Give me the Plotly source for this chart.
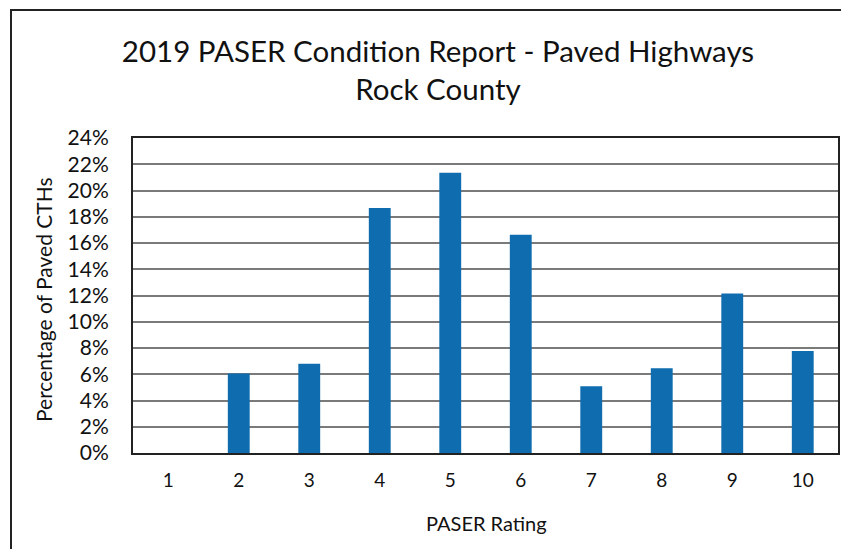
import plotly.graph_objects as go

ratings = ["1", "2", "3", "4", "5", "6", "7", "8", "9", "10"]
percent_paved = [0.0, 6.05, 6.8, 18.66, 21.36, 16.63, 5.09, 6.46, 12.15, 7.78]
y_ticks = list(range(0, 26, 2))
y_tick_labels = [f"{v}%" for v in y_ticks]

title_lines = ["2019 PASER Condition Report - Paved Highways", "Rock County"]
x_title = "PASER Rating"
y_title = "Percentage of Paved CTHs"

FONT = "Lato, 'Open Sans', sans-serif"
INK = "#111111"

fig = go.Figure(
    go.Bar(
        x=ratings,
        y=percent_paved,
        marker=dict(color="#0E6CAF", line=dict(width=0)),
    )
)

# page body has an 8px default margin; lay out in screen coordinates minus offset
OFF = 8
W, H = 849 - 2 * OFF, 557 - 2 * OFF
L, T = 133 - OFF, 138 - OFF
R = W - (838 - OFF)
B = H - (453 - OFF)
pw, ph = W - L - R, H - T - B

def px(x):
    return (x - OFF - L) / pw

def py(y):
    return (H - B - (y - OFF)) / ph

fig.update_layout(
    width=W,
    height=H,
    margin=dict(l=L, r=R, t=T, b=B, autoexpand=False),
    paper_bgcolor="white",
    plot_bgcolor="white",
    bargap=0.69,
    showlegend=False,
    font=dict(family=FONT, color=INK),
    title=dict(
        text="<br>".join(title_lines),
        x=(438 - OFF) / W,
        xanchor="center",
        xref="container",
        yref="container",
        y=1 - 53.5 / H,
        yanchor="middle",
        font=dict(size=29.5, family=FONT, color=INK),
    ),
    xaxis=dict(
        type="category",
        automargin=False,
        showline=True,
        linecolor="#222",
        linewidth=2,
        mirror=True,
        ticks="",
        ticklabelstandoff=9,
        tickfont=dict(size=19, color=INK),
        showgrid=False,
    ),
    yaxis=dict(
        range=[0, 24],
        automargin=False,
        tickvals=y_ticks,
        ticktext=y_tick_labels,
        showline=True,
        linecolor="#222",
        linewidth=2,
        mirror=True,
        showgrid=True,
        gridcolor="#7a7a7a",
        gridwidth=1.5,
        ticks="",
        ticklabelstandoff=18,
        tickfont=dict(size=21, color=INK),
        zeroline=False,
    ),
    annotations=[
        dict(
            text=x_title,
            xref="paper",
            yref="paper",
            x=px(487),
            y=py(523),
            xanchor="center",
            yanchor="middle",
            showarrow=False,
            font=dict(size=20, color=INK),
        ),
        dict(
            text=y_title,
            xref="paper",
            yref="paper",
            x=px(43),
            y=py(300),
            xanchor="center",
            yanchor="middle",
            textangle=-90,
            showarrow=False,
            font=dict(size=21, color=INK),
        ),
    ],
    shapes=[
        dict(
            type="rect",
            xref="paper",
            yref="paper",
            x0=px(11),
            x1=px(845),
            y0=py(553),
            y1=py(10),
            line=dict(color="#222", width=2),
            layer="below",
        )
    ],
)

fig.write_html("out.html")
